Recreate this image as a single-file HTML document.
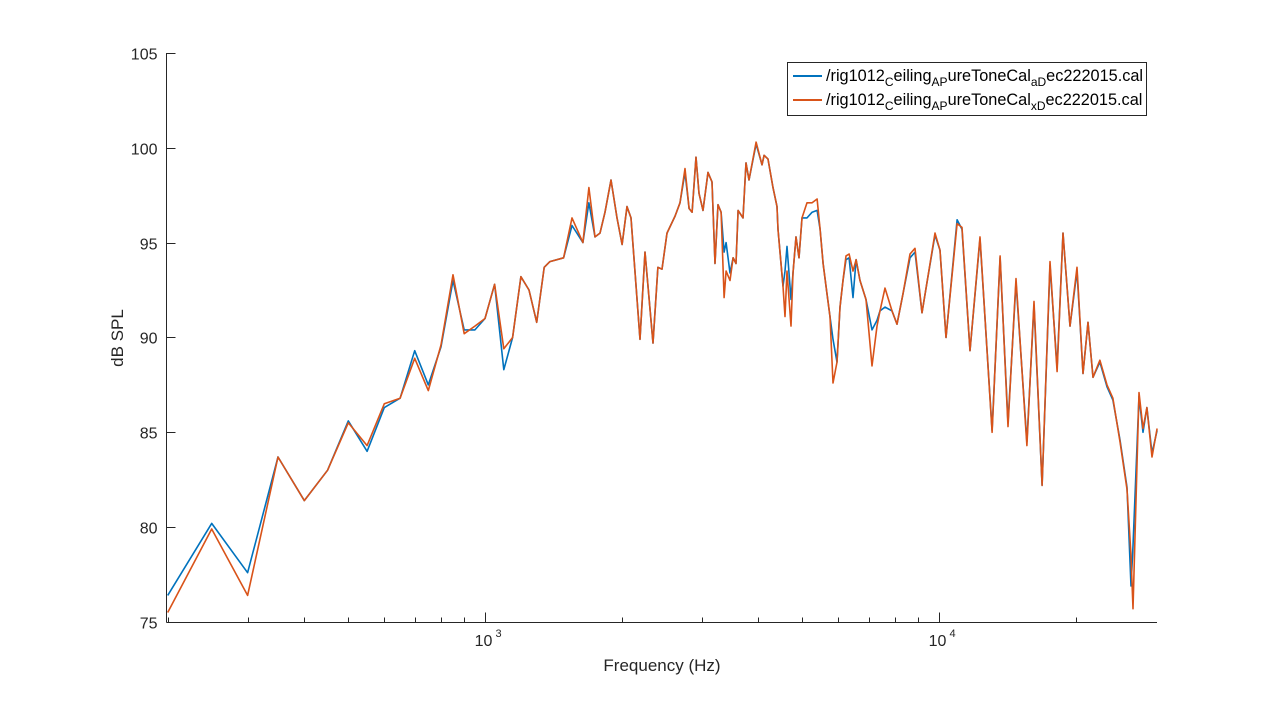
<!DOCTYPE html>
<html><head><meta charset="utf-8"><style>
body{margin:0;background:#fff;}
svg{display:block;font-family:"Liberation Sans",Arial,sans-serif;}
</style></head><body>
<svg id="chart" width="1280" height="701" viewBox="0 0 1280 701" xmlns="http://www.w3.org/2000/svg">
<rect width="1280" height="701" fill="#fff"/>
<g id="axes"></g>
<g id="series"></g>
<text transform="translate(123,338) rotate(-90)" text-anchor="middle" font-size="17" fill="#262626">dB SPL</text>
<text x="662" y="671" text-anchor="middle" font-size="17" fill="#262626">Frequency (Hz)</text>
<g>
<rect x="787.5" y="62.5" width="359" height="53" fill="#fff" stroke="#262626" stroke-width="1"/>
<line x1="793" y1="76" x2="822" y2="76" stroke="#0072BD" stroke-width="2"/>
<text x="826" y="81" font-size="16.3" fill="#000">/rig1012<tspan font-size="12" dy="5">C</tspan><tspan dy="-5">eiling</tspan><tspan font-size="12" dy="5">AP</tspan><tspan dy="-5">ureToneCal</tspan><tspan font-size="12" dy="5">aD</tspan><tspan dy="-5">ec222015.cal</tspan></text>
<line x1="793" y1="100" x2="822" y2="100" stroke="#D95319" stroke-width="2"/>
<text x="826" y="105" font-size="16.3" fill="#000">/rig1012<tspan font-size="12" dy="5">C</tspan><tspan dy="-5">eiling</tspan><tspan font-size="12" dy="5">AP</tspan><tspan dy="-5">ureToneCal</tspan><tspan font-size="12" dy="5">xD</tspan><tspan dy="-5">ec222015.cal</tspan></text>
</g>
</svg>
<script>
const freqs = [200,250,300,350,400,450,500,550,600,650,700,750,800,850,900,950,1000,1050,1100,1150,1200,1250,1300,1350,1390,1490,1555,1643,1694,1747,1792,1838,1895,1953,2004,2055,2097,2195,2251,2344,2404,2454,2517,2622,2689,2758,2815,2858,2916,2961,3021,3099,3162,3211,3260,3311,3362,3396,3465,3519,3572,3609,3701,3758,3815,3954,4076,4118,4202,4309,4398,4420,4533,4580,4626,4721,4769,4842,4917,4992,5121,5253,5388,5471,5554,5667,5754,5842,5962,6054,6146,6241,6337,6466,6566,6699,6802,6907,7120,7303,7413,7603,7879,8081,8331,8634,8855,9175,9410,9800,10050,10360,10960,11240,11700,12310,13090,13630,14190,14780,15620,16190,16870,17560,18200,18760,19430,20140,20760,21290,21840,22620,23440,24160,25040,25950,26480,26750,27570,28140,28710,29460,30220];
const blueDb = [76.4,80.2,77.6,83.7,81.4,83.0,85.6,84.0,86.3,86.8,89.3,87.5,89.5,93.0,90.4,90.4,91.0,92.8,88.3,90.0,93.2,92.5,90.8,93.7,94.0,94.2,95.9,95.0,97.1,95.3,95.5,96.6,98.3,96.3,94.9,96.9,96.3,89.9,94.5,89.7,93.7,93.6,95.5,96.4,97.1,98.7,96.8,96.6,99.5,97.6,96.7,98.7,98.2,93.9,97.0,96.6,94.5,95.0,93.4,94.2,93.9,96.7,96.3,99.2,98.3,100.2,99.1,99.6,99.4,97.9,96.9,95.7,92.7,93.5,94.8,92.0,93.4,95.3,94.2,96.3,96.3,96.6,96.7,95.7,93.9,92.3,91.1,89.9,88.7,91.6,93.0,94.1,94.2,92.1,94.1,93.0,92.5,92.0,90.4,90.9,91.4,91.6,91.4,90.7,92.3,94.2,94.5,91.3,92.9,95.4,94.6,90.0,96.2,95.7,89.3,95.2,85.1,94.2,85.5,92.9,84.5,91.7,82.2,93.8,88.4,95.5,90.6,93.5,88.1,90.8,87.9,88.7,87.4,86.7,84.6,82.1,76.9,79.0,86.9,85.0,86.3,83.9,85.1];
const orangeDb = [75.5,79.9,76.4,83.7,81.4,83.0,85.5,84.3,86.5,86.8,88.9,87.2,89.6,93.3,90.2,90.6,91.0,92.8,89.4,90.0,93.2,92.5,90.8,93.7,94.0,94.2,96.3,95.0,97.9,95.3,95.5,96.6,98.3,96.3,94.9,96.9,96.3,89.9,94.5,89.7,93.7,93.6,95.5,96.4,97.1,98.9,96.8,96.6,99.5,97.6,96.7,98.7,98.2,93.9,97.0,96.6,92.1,93.5,93.0,94.2,93.9,96.7,96.3,99.2,98.3,100.3,99.1,99.6,99.4,97.9,96.9,95.7,92.7,91.1,93.5,90.6,93.4,95.3,94.2,96.3,97.1,97.1,97.3,95.7,93.9,92.3,91.1,87.6,88.7,91.6,93.0,94.3,94.4,93.5,94.1,93.0,92.5,92.0,88.5,90.6,91.4,92.6,91.4,90.7,92.3,94.4,94.7,91.3,92.9,95.5,94.6,90.0,96.0,95.8,89.3,95.3,85.0,94.3,85.3,93.1,84.3,91.9,82.2,94.0,88.2,95.5,90.6,93.7,88.1,90.8,87.9,88.8,87.5,86.8,84.5,82.0,78.5,75.7,87.1,85.2,86.3,83.7,85.2];
const yTicks = [75,80,85,90,95,100,105];
const xMajor = [1000,10000];
const xMajorLabels = ["3","4"];
const xMinor = [200,300,400,500,600,700,800,900,2000,3000,4000,5000,6000,7000,8000,9000,20000];

const NS="http://www.w3.org/2000/svg";
const X0=166.5, X1=1157, Y0=622.5;
function xScale(f){return 485+(Math.log10(f)-3)*454;}
function yScale(v){return 622-(v-75)*18.97;}
function mk(tag,attrs,parent){const e=document.createElementNS(NS,tag);for(const k in attrs)e.setAttribute(k,attrs[k]);parent.appendChild(e);return e;}
const ax=document.getElementById('axes');
let e=mk('line',{x1:X0,y1:Y0,x2:X1,y2:Y0,stroke:'#262626','stroke-width':1},ax);


e=mk('line',{x1:X0,y1:53,x2:X0,y2:Y0,stroke:'#262626','stroke-width':1},ax);


yTicks.forEach(v=>{const y=Math.round(yScale(v))+0.5;
 let t=mk('line',{x1:X0,y1:y,x2:X0+9,y2:y,stroke:'#262626'},ax);
 
 
 let l=mk('text',{x:X0-9,y:y+6,'text-anchor':'end','font-size':16,fill:'#262626'},ax);
 l.textContent=v;
 
 
});
xMinor.forEach(f=>{const x=Math.round(xScale(f))+0.5;
 let t=mk('line',{x1:x,y1:Y0,x2:x,y2:Y0-5,stroke:'#262626'},ax);
 
 
});
xMajor.forEach((f,i)=>{const x=Math.round(xScale(f))+0.5;
 let t=mk('line',{x1:x,y1:Y0,x2:x,y2:Y0-10,stroke:'#262626'},ax);
 
 
 let l=mk('text',{x:x-2,y:646,'text-anchor':'middle','font-size':16,fill:'#262626'},ax);
 l.textContent='10';
 
 
 let s=mk('text',{x:x+10,y:637,'font-size':11,fill:'#262626'},ax);
 s.textContent=xMajorLabels[i];
 
 
});
const sg=document.getElementById('series');
function draw(vals,color,name){
 const d=freqs.map((f,i)=>(i?'L':'M')+xScale(f).toFixed(1)+','+yScale(vals[i]).toFixed(1)).join(' ');
 const p=mk('path',{d:d,fill:'none',stroke:color,'stroke-width':1.6,'stroke-linejoin':'round'},sg);
 
 
}
draw(blueDb,'#0072BD','series-blue-line');
draw(orangeDb,'#D95319','series-orange-line');
</script>
</body></html>
